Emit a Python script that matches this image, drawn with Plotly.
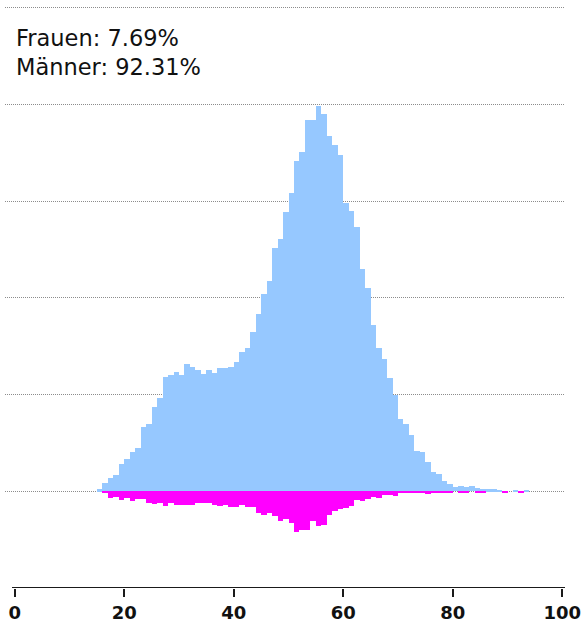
import plotly.graph_objects as go

ages = list(range(15, 94))

maenner = [0.02, 0.09, 0.14, 0.17, 0.28, 0.33, 0.41, 0.45, 0.66, 0.70,
           0.87, 0.96, 1.18, 1.20, 1.23, 1.20, 1.32, 1.29, 1.25, 1.21,
           1.25, 1.22, 1.28, 1.28, 1.29, 1.34, 1.44, 1.48, 1.65, 1.83,
           2.04, 2.18, 2.52, 2.61, 2.89, 3.08, 3.42, 3.51, 3.84, 3.84,
           3.98, 3.90, 3.67, 3.58, 3.48, 2.98, 2.90, 2.73, 2.30, 2.10,
           1.72, 1.48, 1.37, 1.17, 1.00, 0.75, 0.70, 0.58, 0.42, 0.41,
           0.30, 0.20, 0.18, 0.11, 0.075, 0.04, 0.06, 0.045, 0.06, 0.03,
           0.02, 0.02, 0.02, 0.01, 0.0, 0.0, 0.01, 0.0, 0.015]

frauen = [0.0, -0.018, -0.065, -0.059, -0.086, -0.065, -0.10, -0.083, -0.08, -0.116,
          -0.127, -0.116, -0.155, -0.116, -0.145, -0.137, -0.145, -0.145, -0.12, -0.125,
          -0.12, -0.14, -0.15, -0.137, -0.162, -0.165, -0.141, -0.158, -0.158, -0.22,
          -0.24, -0.22, -0.26, -0.31, -0.29, -0.33, -0.42, -0.40, -0.40, -0.31,
          -0.36, -0.35, -0.25, -0.20, -0.18, -0.17, -0.155, -0.093, -0.10, -0.076,
          -0.059, -0.065, -0.034, -0.034, -0.045, -0.022, -0.02, -0.014, -0.014, -0.017,
          -0.024, -0.012, -0.01, -0.01, -0.01, 0.0, -0.01, -0.01, 0.0, -0.01,
          -0.01, 0.0, 0.0, 0.0, -0.01, 0.0, 0.0, -0.01, 0.0]

tick_vals = [0, 20, 40, 60, 80, 100]
tick_text = ["0", "20", "40", "60", "80", "100"]
label_text = "Frauen: 7.69%<br>Männer: 92.31%"

fig = go.Figure()
fig.add_trace(go.Bar(x=ages, y=maenner, width=1, offset=0,
                     marker=dict(color="#96c8ff", line=dict(width=0)),
                     name="Männer"))
fig.add_trace(go.Bar(x=ages, y=frauen, width=1, offset=0,
                     marker=dict(color="#ff00ff", line=dict(width=0)),
                     name="Frauen"))

fig.add_shape(type="line", xref="x", yref="y", x0=-0.5, x1=100.5, y0=-1, y1=-1,
              line=dict(color="#1a1a1a", width=2), layer="above")

fig.add_annotation(text=label_text, xref="paper", yref="paper", x=0.0165, y=0.965,
                   xanchor="left", yanchor="top", showarrow=False, align="left",
                   font=dict(family="DejaVu Sans", size=22.5, color="#111111"))

fig.update_layout(
    width=583, height=629,
    margin=dict(l=5, r=18, t=3, b=41),
    plot_bgcolor="white", paper_bgcolor="white",
    barmode="overlay", bargap=0,
    showlegend=False,
    xaxis=dict(range=[-1.78, 100.5], tickvals=tick_vals, ticktext=tick_text,
               ticks="outside", ticklen=8, tickwidth=2, tickcolor="#1a1a1a",
               showgrid=False, zeroline=False, showline=False,
               tickfont=dict(family="DejaVu Sans", size=18, color="#111111", weight="bold")),
    yaxis=dict(range=[-1.0, 5.05], dtick=1, tick0=0, showticklabels=False,
               showgrid=True, gridcolor="#8c8c8c", griddash="1px,1px", gridwidth=1,
               zeroline=False, showline=False, ticks=""),
)

fig.write_html("out.html", config={"displayModeBar": False},
               post_script="document.body.style.margin='0';document.body.style.overflow='hidden';")
